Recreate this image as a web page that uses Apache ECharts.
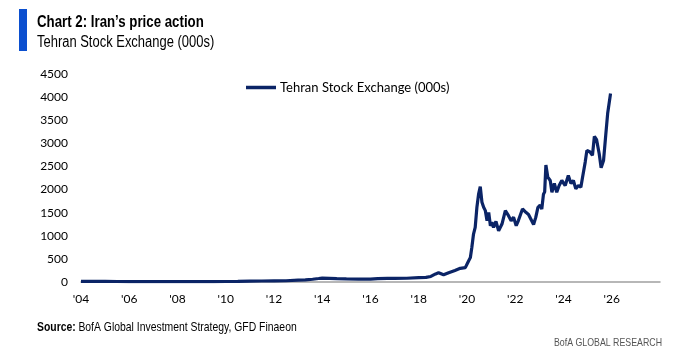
<!DOCTYPE html>
<html>
<head>
<meta charset="utf-8">
<script src="https://cdn.jsdelivr.net/npm/echarts@6/dist/echarts.min.js"></script>
<style>html,body{margin:0;padding:0;background:#fff}#c{width:673px;height:362px}</style>
</head>
<body>
<div id="c"></div>
<script>
// Decimal years and Tehran Stock Exchange index (000s)
const years = [2004.0,2004.5,2005.0,2005.5,2006.0,2006.5,2007.0,2007.5,2008.0,2008.5,2009.0,2009.5,2010.0,2010.5,2011.0,2011.5,2012.0,2012.5,2013.0,2013.3,2013.6,2013.85,2014.0,2014.3,2014.6,2015.0,2015.5,2016.0,2016.3,2016.7,2017.0,2017.5,2018.0,2018.3,2018.5,2018.7,2018.82,2019.03,2019.24,2019.5,2019.72,2019.93,2020.06,2020.14,2020.2,2020.27,2020.34,2020.41,2020.48,2020.55,2020.62,2020.69,2020.76,2020.83,2020.9,2020.97,2021.03,2021.1,2021.2,2021.31,2021.45,2021.59,2021.72,2021.83,2021.93,2022.04,2022.13,2022.3,2022.44,2022.55,2022.76,2022.85,2022.94,2023.03,2023.1,2023.17,2023.22,2023.27,2023.35,2023.45,2023.52,2023.62,2023.72,2023.82,2023.93,2024.07,2024.2,2024.31,2024.41,2024.51,2024.62,2024.72,2024.79,2024.9,2024.97,2025.1,2025.2,2025.28,2025.37,2025.48,2025.56,2025.66,2025.75,2025.83,2025.95];
const values = [12,13,13,11,9.5,9.5,9.8,10,10,8.5,7.5,9,11,14,18,22,25,27,40,45,60,75,85,80,72,66,64,62,75,78,79,81,96,100,120,175,200,155,200,250,295,310,450,528,746,1037,1181,1615,1900,2065,1724,1615,1544,1326,1507,1217,1290,1181,1311,1109,1254,1544,1435,1326,1400,1217,1330,1580,1507,1460,1245,1398,1615,1660,1580,1900,1950,2530,2268,2196,1942,2130,1942,2087,2196,2087,2304,2130,2196,2015,2087,2050,2268,2594,2848,2812,2739,3152,3080,2776,2471,2630,3174,3645,4080];
const seriesName = 'Tehran Stock Exchange (000s)';
const yTicks = [0,500,1000,1500,2000,2500,3000,3500,4000,4500];

const chart = echarts.init(document.getElementById('c'), null, {renderer:'canvas'});
const sans = '"Liberation Sans", Arial, sans-serif';
const labelFont = 'Lato, "Open Sans", sans-serif';
chart.setOption({
  animation:false,
  backgroundColor:'#fff',
  grid:{left:81,right:13,top:74,bottom:80,containLabel:false},
  legend:{
    data:[seriesName], left:246, top:81, padding:0, icon:'rect', itemWidth:30, itemHeight:3.5, itemGap:4,
    textStyle:{fontFamily:labelFont, fontSize:13, color:'#000', padding:[0,0,0,-1]}
  },
  xAxis:{
    type:'value', min:2004, max:2028, interval:2,
    axisLine:{show:true, lineStyle:{color:'#a0a0a0', width:1.5}},
    axisTick:{show:false}, splitLine:{show:false},
    axisLabel:{color:'#000', fontFamily:labelFont, fontSize:12, margin:11,
      formatter:function(v){ return v>=2028 ? '' : "'" + String(v).slice(2); }}
  },
  yAxis:{
    type:'value', min:yTicks[0], max:yTicks[yTicks.length-1], interval:500,
    axisLine:{show:false}, axisTick:{show:false}, splitLine:{show:false},
    axisLabel:{color:'#000', fontFamily:labelFont, fontSize:12, margin:13,
      formatter:function(v){ return String(v); }}
  },
  series:[{
    name:seriesName, type:'line', data:years.map((y,i)=>[y,values[i]]),
    showSymbol:false, symbol:'none', lineStyle:{color:'#0b2466', width:3.2}, itemStyle:{color:'#0b2466'}
  }],
  graphic:[
    {type:'rect', shape:{x:19,y:9,width:8,height:42}, style:{fill:'#0b4fcf'}},
    {type:'text', x:37, y:14, scaleX:0.78, style:{x:0, y:0, text:'Chart 2: Iran\u2019s price action', font:'bold 17px ' + sans, fill:'#000', textVerticalAlign:'top'}},
    {type:'text', x:37, y:35, scaleX:0.81, style:{x:0, y:0, text:'Tehran Stock Exchange (000s)', font:'16px ' + sans, fill:'#000', textVerticalAlign:'top'}},
    {type:'text', x:37, y:321, scaleX:0.8, style:{x:0, y:0, textVerticalAlign:'top', rich:{b:{fontFamily:sans, fontWeight:'bold', fontSize:13, fill:'#000'}, n:{fontFamily:sans, fontSize:13, fill:'#000'}}, text:'{b|Source:} {n|BofA Global Investment Strategy, GFD Finaeon}'}},
    {type:'text', x:662, y:337, scaleX:0.8, style:{x:0, y:0, text:'BofA GLOBAL RESEARCH', font:'11px ' + sans, fill:'#555', textAlign:'right', textVerticalAlign:'top'}}
  ]
});
</script>
</body>
</html>
